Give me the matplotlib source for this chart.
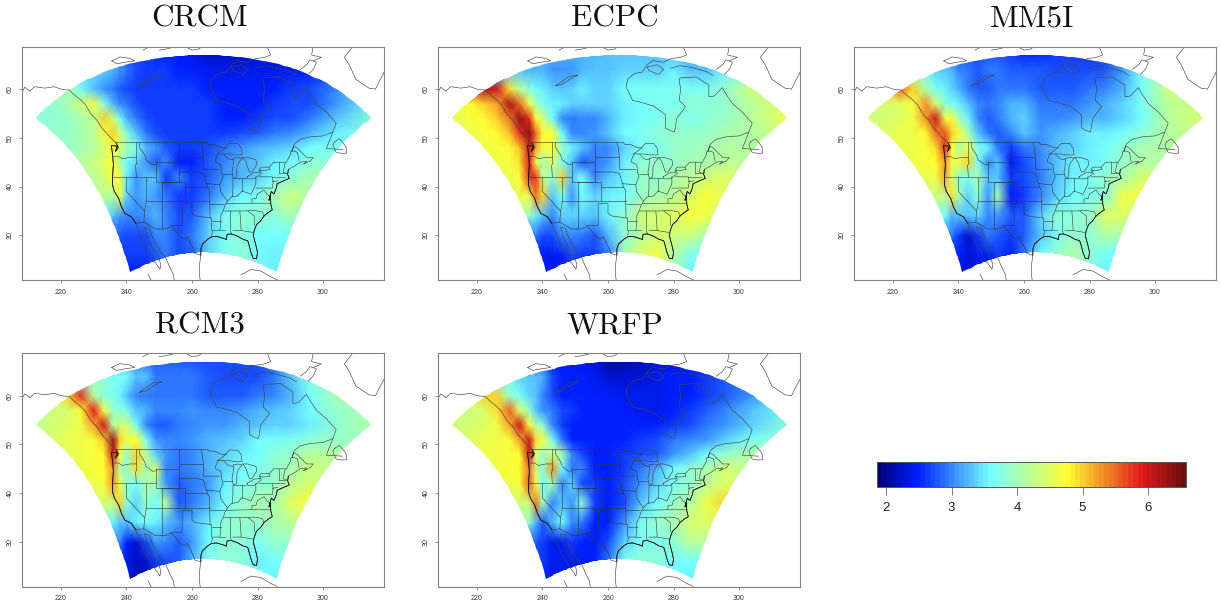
import numpy as np
import matplotlib
matplotlib.use("Agg")
import matplotlib.pyplot as plt
from matplotlib.colors import LinearSegmentedColormap, Normalize
from matplotlib.cm import ScalarMappable
from matplotlib.patches import PathPatch
from matplotlib.path import Path

W, H = 1221, 606
models = ["CRCM", "ECPC", "MM5I", "RCM3", "WRFP"]
lon_nodes = [212,218,222,226,230,233,236,238,240,243,246,249,252,256,260,265,270,275,280,285,290,296,304,316]
lat_nodes = [68,64,60,57,54,51,48,45,42,38,34,30,26,22]
xticks = [220, 240, 260, 280, 300]
yticks = [30, 40, 50, 60]
bar_ticks = [2, 3, 4, 5, 6]

# field values in tenths, one row per latitude node (north to south)
crcm = [
[28,28,28,28,28,28,28,27,27,26,26,25,25,24,24,22,22,22,23,23,24,25,26,28],
[34,34,34,34,34,34,32,31,29,27,26,26,26,25,25,24,24,24,24,24,24,25,27,30],
[40,40,40,37,33,31,29,28,27,26,26,26,26,26,26,25,25,25,25,25,26,27,30,36],
[39,39,40,43,46,38,32,30,29,27,26,26,26,26,26,26,25,25,25,26,27,27,31,37],
[38,38,39,40,42,50,44,36,32,29,27,26,26,26,26,26,25,25,26,27,27,29,33,38],
[38,39,39,40,42,46,50,44,38,33,29,27,26,26,26,26,26,27,28,29,30,32,35,37],
[38,39,39,40,41,44,47,44,40,37,32,31,28,26,26,27,29,31,32,33,34,36,37,37],
[38,39,40,41,43,45,48,40,36,34,31,28,30,25,25,28,30,32,33,35,36,38,38,37],
[38,39,40,41,42,44,48,46,35,31,33,33,26,30,26,28,31,32,34,36,38,40,40,38],
[38,38,39,40,41,42,41,46,34,31,32,31,29,26,26,29,33,36,37,40,43,41,38,38],
[36,36,36,36,36,35,33,31,30,30,31,32,30,27,28,33,37,38,38,38,40,38,36,36],
[28,28,28,28,28,28,28,28,27,27,27,30,30,27,29,34,37,38,36,36,36,36,36,36],
[26,26,26,26,26,26,26,26,26,26,26,28,29,27,28,34,37,38,36,35,35,35,35,35],
[25,25,25,25,25,25,25,25,25,25,25,27,28,27,28,34,37,37,36,35,35,35,35,35]]
ecpc = [
[30,30,30,30,30,31,31,31,32,32,32,32,32,32,33,33,33,33,33,32,30,31,33,38],
[33,33,33,33,33,33,32,32,32,31,31,31,32,33,33,34,34,34,35,33,33,35,38,42],
[55,58,62,60,49,42,38,36,35,34,33,34,35,34,34,36,37,37,37,37,37,39,43,44],
[46,48,50,52,62,55,46,40,37,35,35,34,34,34,34,35,36,37,37,38,38,39,42,45],
[45,47,48,50,54,63,58,48,44,36,30,29,30,30,32,35,36,37,38,37,38,39,42,46],
[44,46,47,48,51,58,64,55,48,47,36,30,30,31,33,36,37,38,39,39,39,40,41,44],
[44,44,46,47,48,51,60,52,46,48,39,35,33,30,30,34,37,37,39,39,40,41,41,42],
[44,44,45,46,47,49,59,46,40,44,37,33,28,29,31,35,38,39,39,40,40,42,42,42],
[44,44,44,45,46,47,58,57,43,38,50,33,37,30,33,35,39,39,40,42,43,45,44,43],
[44,44,44,44,45,46,46,54,50,33,37,31,36,34,35,36,39,40,42,44,48,45,43,43],
[42,42,42,42,41,41,39,35,33,30,34,34,34,33,35,38,43,44,45,47,46,42,42,42],
[29,29,29,29,29,29,29,29,27,27,30,30,29,28,32,38,41,44,43,43,40,40,40,40],
[25,25,25,25,25,25,25,25,25,24,25,27,26,26,29,40,45,46,41,37,37,37,37,37],
[24,24,24,24,24,24,24,24,24,24,25,26,26,26,29,40,45,45,41,35,35,35,35,35]]
mm5i = [
[29,29,29,29,29,29,29,28,28,27,27,27,27,26,25,25,26,26,26,26,30,35,40,44],
[38,38,38,38,36,34,33,32,30,29,28,29,29,28,28,28,27,27,27,28,31,37,44,44],
[44,47,55,50,41,37,35,34,32,29,28,28,29,29,29,28,28,28,29,30,32,36,43,44],
[43,44,45,47,53,44,38,36,35,33,30,29,30,32,32,29,29,29,31,32,34,37,42,44],
[43,44,45,46,53,60,46,48,40,35,30,28,29,32,34,30,30,31,32,32,34,36,42,44],
[43,45,46,46,48,54,56,50,48,40,33,29,28,30,33,31,32,34,35,35,36,38,41,43],
[43,45,46,46,47,49,58,48,40,46,37,35,29,26,29,30,33,34,35,36,38,40,41,43],
[43,45,45,46,47,48,53,46,46,50,36,30,33,24,27,30,33,35,35,37,39,41,41,42],
[43,44,45,45,46,46,52,45,38,37,40,33,33,26,27,29,33,35,37,39,40,44,43,42],
[42,42,42,42,42,43,42,49,40,34,38,31,40,24,26,30,34,36,37,38,46,47,43,42],
[38,38,38,38,38,38,36,32,33,33,34,30,31,28,28,34,38,38,39,45,45,42,40,40],
[29,29,29,29,29,29,29,29,26,23,26,29,28,26,28,33,37,39,38,41,40,40,40,40],
[25,25,25,25,25,25,25,25,25,23,24,25,26,25,29,36,39,41,38,36,36,36,36,36],
[25,25,25,25,25,25,25,25,24,23,24,25,26,25,29,36,39,40,38,35,35,35,35,35]]
rcm3 = [
[30,30,30,30,30,30,30,30,30,29,28,28,28,28,27,27,27,27,27,28,33,38,40,42],
[38,38,38,38,38,38,37,37,36,33,33,29,29,29,29,28,27,27,27,29,33,38,40,42],
[40,43,50,58,42,38,37,35,33,30,29,29,29,29,29,28,28,28,29,30,32,36,40,42],
[42,43,44,48,59,46,39,38,37,33,32,30,30,30,31,30,30,31,32,33,34,36,39,41],
[42,44,45,46,52,60,42,43,44,36,30,28,28,29,30,31,31,32,33,34,34,35,38,41],
[43,44,46,46,47,51,63,50,46,48,37,31,30,30,31,32,33,34,36,36,37,38,39,41],
[43,44,45,46,47,48,60,48,38,50,42,34,31,29,30,32,34,35,36,38,39,42,41,41],
[43,44,45,46,47,48,53,40,39,49,40,44,30,29,30,32,34,36,37,38,40,43,42,41],
[43,44,45,46,46,47,53,46,38,36,40,40,31,28,29,31,35,37,38,39,42,44,42,41],
[42,42,43,43,43,44,43,50,38,34,39,36,42,28,29,32,36,39,40,40,45,48,43,42],
[38,38,38,38,38,38,35,33,33,35,36,35,33,31,32,35,38,39,39,40,42,42,40,40],
[30,30,30,30,30,30,30,30,25,23,27,31,30,28,31,36,38,38,37,39,39,39,39,39],
[24,24,24,24,24,24,24,24,24,22,23,26,27,28,32,37,38,38,35,36,36,36,36,36],
[24,24,24,24,24,24,24,24,24,22,23,26,27,28,32,37,38,38,36,35,35,35,35,35]]
wrfp = [
[26,26,26,26,26,26,26,26,26,25,25,24,24,23,21,21,22,23,23,24,25,26,28,32],
[36,36,36,36,36,34,33,33,32,27,25,25,25,24,23,23,23,24,25,25,26,28,30,34],
[42,46,50,50,39,37,34,33,30,27,25,25,25,25,25,24,24,24,25,25,26,28,31,36],
[43,43,44,49,55,45,39,33,31,29,27,26,25,25,25,25,24,24,25,26,28,30,33,36],
[43,44,45,46,52,60,47,41,38,30,26,25,25,25,25,25,25,25,26,27,29,31,34,38],
[44,45,46,46,47,52,60,49,47,37,29,25,25,25,25,25,26,27,29,30,31,34,37,39],
[44,45,46,46,47,48,60,45,39,43,40,30,27,25,25,26,27,28,31,33,36,39,41,41],
[44,45,46,47,47,48,54,43,38,53,36,29,30,25,25,26,29,32,36,38,40,44,42,41],
[44,45,45,46,46,47,56,47,36,40,30,34,27,26,25,27,31,34,37,39,42,45,42,41],
[42,42,43,43,43,44,43,54,40,30,33,31,38,26,25,27,33,36,39,41,46,50,44,42],
[38,38,38,38,38,39,39,32,28,32,36,30,29,25,25,31,37,39,40,44,45,43,41,41],
[28,28,28,28,28,28,28,28,26,24,25,26,25,25,27,34,37,37,38,42,42,42,42,42],
[26,26,26,26,26,26,26,26,26,24,24,24,24,25,29,37,38,38,36,36,36,36,36,36],
[25,25,25,25,25,25,25,25,25,24,24,24,24,25,29,37,38,38,36,35,35,35,35,35]]
fields = [crcm, ecpc, mm5i, rcm3, wrfp]

# geography (lon east of Greenwich, lat)
coasts = [
[(208.2,59.5),(209,60.4),(210.5,59.6),(212,60.5),(215,60.2),(218,60.5),(220,60),(222.5,59.8),(224.5,58.6),(226,57.8),(227.5,56.8),(228.5,55.6),(229.5,54.6),(231,53.6),(232.5,52),(234,50.9),(235.5,49.8),(236.8,49),(237.5,48),(236.6,47.2),(237.2,48.3),(235.4,48.4),(235.8,46.3),(236,44.5),(235.8,42.5),(235.7,40.4),(236.3,39),(237.6,37.6),(238.5,35.8),(239.5,34.5),(241.5,33.8),(242.8,32.5),(244,30.5),(245.2,28.6),(245.5,27.8),(247,26.5),(248,25),(249.5,23.8),(250.2,23),(250.5,24),(249.5,26),(248,27.5),(246.5,29.5),(245.5,31.7),(247,31.4),(248,29.5),(249.2,28),(250.5,26.5),(252,25.4),(253,23.8),(254.3,22),(254.6,20.8)],
[(262.5,20.8),(262.2,22.5),(262.4,24.5),(262.7,26),(262.7,27.2),(263.2,28.2),(265,29.3),(266,29.7),(267.5,29.8),(269,29.5),(270,29.3),(270.5,29.1),(270.7,30.2),(272,30.3),(274,29.8),(275.5,29.2),(277,28.9),(277.5,27.8),(278,26.5),(278.7,25.3),(279.7,25.2),(280,26.5),(279.5,28),(278.7,30),(279,31),(279.7,32.2),(281,33),(282,34),(283.5,34.8),(284.5,35.2),(284,36.5),(284,38.5),(283.5,37.2),(284.2,39),(285,38.5),(285.8,39.8),(286,40.6),(288,41.2),(289.7,41.7),(289.2,42.5),(289.4,43.5),(291.5,44.3),(293,45),(295,45.2),(294,44.6),(296.2,45.3),(297,46),(295,46),(293.5,47),(292,48),(291,48.3),(290.5,47.2),(291.2,48.7),(293,49.7),(296,50.2),(300,50.4),(303,51.2),(304,53),(301,55.3),(298,57),(296,59),(294.9,60.3),(292.5,58.6),(290.8,58.4),(290.8,60.8),(287,62.5),(282,62.3),(281.7,61.9),(282.2,60),(281.7,57.7),(283.7,56.4),(281,54),(280.3,51.2),(279,51.5),(277.6,52),(277.6,54.7),(274,56.5),(270,57.3),(267.5,57.7),(265.5,60.5),(266,62),(268,63.2),(270.5,63.5),(272,65),(274,66)],
[(245,68),(247,68.7)], [(250,68),(252,68.2),(255,68.7)], [(258,68.7),(260,68),(262,68.2),(263,68.7)],
[(283,68.7),(284,67),(282,66.5),(279,66.2),(277,65.5),(274,65.8)],
[(272,64.5),(275,65),(277,64),(275.5,63),(272.5,63.8),(272,64.5)],
[(279,64.3),(282,64.8),(285,64.5),(288,64),(290,63.6),(292,62.8)],
[(293,64),(295,65),(296,66),(298,65.5),(297,64),(295.5,63)],
[(297,68.7),(296.5,67),(299.5,66.5),(297,65.8)],
[(303.5,49.2),(305,49.8),(307,48.2),(307.2,46.9),(306,46.8),(304,47),(303,48.5),(303.5,49.2)],
[(303,51.2),(301,47.8),(306,47.6)],
[(309,68.7),(306.5,66.5),(308,65),(310,62),(314,60.2),(316,60),(317.5,62),(318.7,63.5)],
[(275,21.9),(278,23),(281,22.7),(284,21.5),(286,20.9)],
[(247.5,20.8),(246.6,22)],
[(235.5,65.8),(238,66.6),(241,66.3),(242.5,65.8),(239.5,65.5),(237,65.2),(235.5,65.8)],
[(244,60.7),(246,61),(249,62.3),(251,62.9),(248,62.6),(246,61.6),(244,60.7)],
[(267.9,46.7),(269.5,47.5),(271.5,48.9),(274,48.8),(275,47.9),(275.3,46.5),(273,46.5),(271,46.7),(269.5,46.7),(267.9,46.7)],
[(272.7,45.8),(274,46),(275.3,45.8),(274.3,45),(273.7,44),(273.7,43),(273.6,42),(273,41.7),(272.5,42),(272.2,43),(272.5,44),(272.7,45.8)],
[(275.5,46),(277,46),(279.5,45.5),(279.8,44.5),(278.3,43),(277.5,43),(277,44),(276.5,45),(275.5,46)],
[(276.8,42),(279,42.9),(281,43),(281.2,42.7),(279,41.6),(277,41.6),(276.8,42)],
[(280.5,43.4),(282,43.3),(283.8,43.5),(283.5,44),(281,44),(280.5,43.4)],
]
heavy_south = {0: 32.3, 1: 24.5}
borders = [
[(237,49),(264.8,49),(265,48.7),(267,48.6),(269,48),(270.5,47.9)],
[(236,46.2),(237.5,46.2),(238.8,45.7),(241,46),(243,46)],[(243,49),(243,46),(243.2,45),(242.8,44.3),(243,42)],
[(235.8,42),(249,42)],[(244,49),(244,48),(245.5,46.5),(246,45.5),(248,44.5),(249,44.6)],[(249,45),(255.9,45),(255.9,41),(249,41),(249,45)],
[(256,49),(256,45)],[(246,42),(246,37)],[(250.9,41),(250.9,37)],[(250.9,41),(258,41),(258,37)],[(245.9,37),(265.4,37)],
[(250.9,37),(250.9,31.3)],[(240,42),(240,39),(245.5,35),(245.3,32.7)],[(246,37),(245.9,36),(245.5,35)],
[(242.9,32.5),(245.3,32.7),(248.9,31.3),(251.9,31.3),(253.5,31.8),(254,31.7),(255.5,30.5),(256.8,29.5),(257.6,29.2),(258.5,29.7),(259.5,28.5),(260.5,27),(260.8,26.3),(262.7,25.9)],
[(253.5,32),(257,32),(257,36.5),(260,36.5),(260,34.5),(261,34),(263,33.8),(265.5,33.6)],[(265.4,37),(265.5,33.6),(266,33.5),(266,31)],
[(258,40),(264.7,40)],[(255.9,43),(261.5,43),(263.5,42.7),(264,41.5),(264.7,40),(265.4,39.1),(265.4,37)],[(256,46),(263.5,46)],
[(262.9,49),(263.5,46),(263.5,43.5),(268.5,43.5)],[(264.3,40.6),(268.5,40.4)],[(265.4,36.5),(269.8,36.5)],[(266,33),(268.8,33)],
[(267.9,46.7),(267.2,45.5),(267.2,45),(268.8,44.5),(269,43),(269.5,42),(268.8,41),(268.5,40.4),(268.7,39),(269.7,38),(270.8,37),(270,36),(269.5,35),(268.8,34),(268.8,33),(268.7,32),(268.5,31),(266.3,31),(266,30)],
[(269.7,46.6),(271,45.7),(272.5,45.5)],[(269.6,42.5),(272.2,42.5)],[(272.5,41.7),(272.5,39.5),(272.3,38)],[(275.2,41.7),(275.2,39.1)],[(272.5,41.7),(276.5,41.7)],
[(270.8,37),(272,37.9),(274,38.1),(275.2,39.1),(277,38.7),(278,38.4),(279.5,40.6),(279.5,42)],
[(270.5,36.5),(278.3,36.6),(284.2,36.6)],[(269.8,35),(275.5,35),(279.2,35.1),(281.5,34.8),(282,33.9)],
[(271.8,35),(271.8,31),(272,30.3)],[(274.6,35),(274.9,32.5),(275,31)],[(268.5,31),(270.2,31)],[(272.5,31),(275,31),(278.5,30.6)],[(277,35),(279,34),(279,32)],
[(278.3,36.6),(278.3,37.5),(279.5,37.5),(280,38.5),(282,39.3),(283,38.3),(284,38)],[(279.5,39.7),(284.5,39.7),(284.8,41),(284.5,42),(280.5,42)],
[(280.5,42.9),(281,43.3)],[(283.5,44),(285,45),(288.8,45),(290,46.5),(290.2,47.3),(291.2,47.3),(292.2,47),(292.7,45.2)],
[(286.7,45),(286.7,42.7)],[(288.5,45),(287.8,43),(289,42.7)],[(286.7,42),(288.3,42)],[(286.7,42.7),(288.8,42.7)],[(284.5,42),(286.7,42)],[(284.5,41),(286.3,41.2)],
]

X0, X1 = 208.2, 318.7
Y0, Y1 = 20.8, 68.7
panel_left = [22.3, 438.3, 854.3, 22.3, 438.3]
panel_top = [46.7, 46.7, 46.7, 353.3, 353.3]
panel_w, panel_h = 362.0, 233.5
title_x = [200, 615, 1032, 200, 615]
title_y = [19, 19, 19, 326, 326]

# stereographic boundary of the model domain
def domain_outline():
    xe, yt, yb = 0.2535, -0.2035, -0.6188
    s = np.linspace(0, 1, 80)
    px = np.r_[-xe + 2*xe*s, np.full(40, xe), xe - 2*xe*s, np.full(40, -xe)]
    py = np.r_[np.full(80, yt), np.linspace(yt, yb, 40), np.full(80, yb), np.linspace(yb, yt, 40)]
    r = np.hypot(px, py)
    lat = 90 - 2*np.degrees(np.arctan(r))
    lon = 263.5 + np.degrees(np.arctan2(px, -py))
    return np.column_stack([lon, lat])

stops = [(1.86,"#00007F"),(2.47,"#0020FF"),(3.58,"#75FFFF"),(4.77,"#FFFF33"),(5.92,"#E31A1C"),(6.58,"#6B0F0F")]
vmin, vmax = stops[0][0], stops[-1][0]
cmap = LinearSegmentedColormap.from_list("tim", [((v-vmin)/(vmax-vmin), c) for v, c in stops], N=64)
norm = Normalize(vmin, vmax)

plt.rcParams["font.family"] = ["Liberation Sans", "DejaVu Sans"]
fig = plt.figure(figsize=(W/100, H/100), dpi=100)
outline = domain_outline()

for i, name in enumerate(models):
    ax = fig.add_axes([panel_left[i]/W, 1-(panel_top[i]+panel_h)/H, panel_w/W, panel_h/H])
    vals = np.array(fields[i], dtype=float)[::-1] / 10.0
    mesh = ax.pcolormesh(lon_nodes, lat_nodes[::-1], vals, shading="gouraud", cmap=cmap, norm=norm)
    patch = PathPatch(Path(outline, closed=False), transform=ax.transData, fc="none", ec="none")
    ax.add_patch(patch)
    mesh.set_clip_path(patch)
    for k, line in enumerate(coasts):
        a = np.array(line)
        ax.plot(a[:,0], a[:,1], color="#444444", lw=0.45, solid_joinstyle="round")
        if k in heavy_south:
            m = (a[:,1] > heavy_south[k]) & (a[:,1] < 49.5) & (a[:,0] < 290)
            ax.plot(np.where(m, a[:,0], np.nan), a[:,1], color="#111111", lw=0.6, solid_joinstyle="round")
    for line in borders:
        a = np.array(line)
        ax.plot(a[:,0], a[:,1], color="#333333", lw=0.4)
    ax.set_xlim(X0, X1)
    ax.set_ylim(Y0, Y1)
    ax.set_xticks(xticks)
    ax.set_yticks(yticks)
    ax.tick_params(axis="both", labelsize=5, length=2.2, width=0.5, color="#666666", labelcolor="#333333", pad=4)
    for t in ax.get_yticklabels():
        t.set_rotation(90)
        t.set_va("center")
    for s in ax.spines.values():
        s.set_color("#808080")
        s.set_linewidth(0.8)
    fig.text(title_x[i]/W, 1-title_y[i]/H, name, family="cmr10", fontsize=22.5, ha="center", va="center", color="#111111")

cax = fig.add_axes([877/W, 1-487/H, 309/W, 25.5/H])
cb = fig.colorbar(ScalarMappable(norm=norm, cmap=cmap), cax=cax, orientation="horizontal", ticks=bar_ticks)
cb.outline.set_edgecolor("#555555")
cb.outline.set_linewidth(0.7)
cax.tick_params(labelsize=9.5, length=5.5, width=0.7, color="#777777", labelcolor="#222222", pad=5.5)

fig.savefig("out.png", dpi=100)
